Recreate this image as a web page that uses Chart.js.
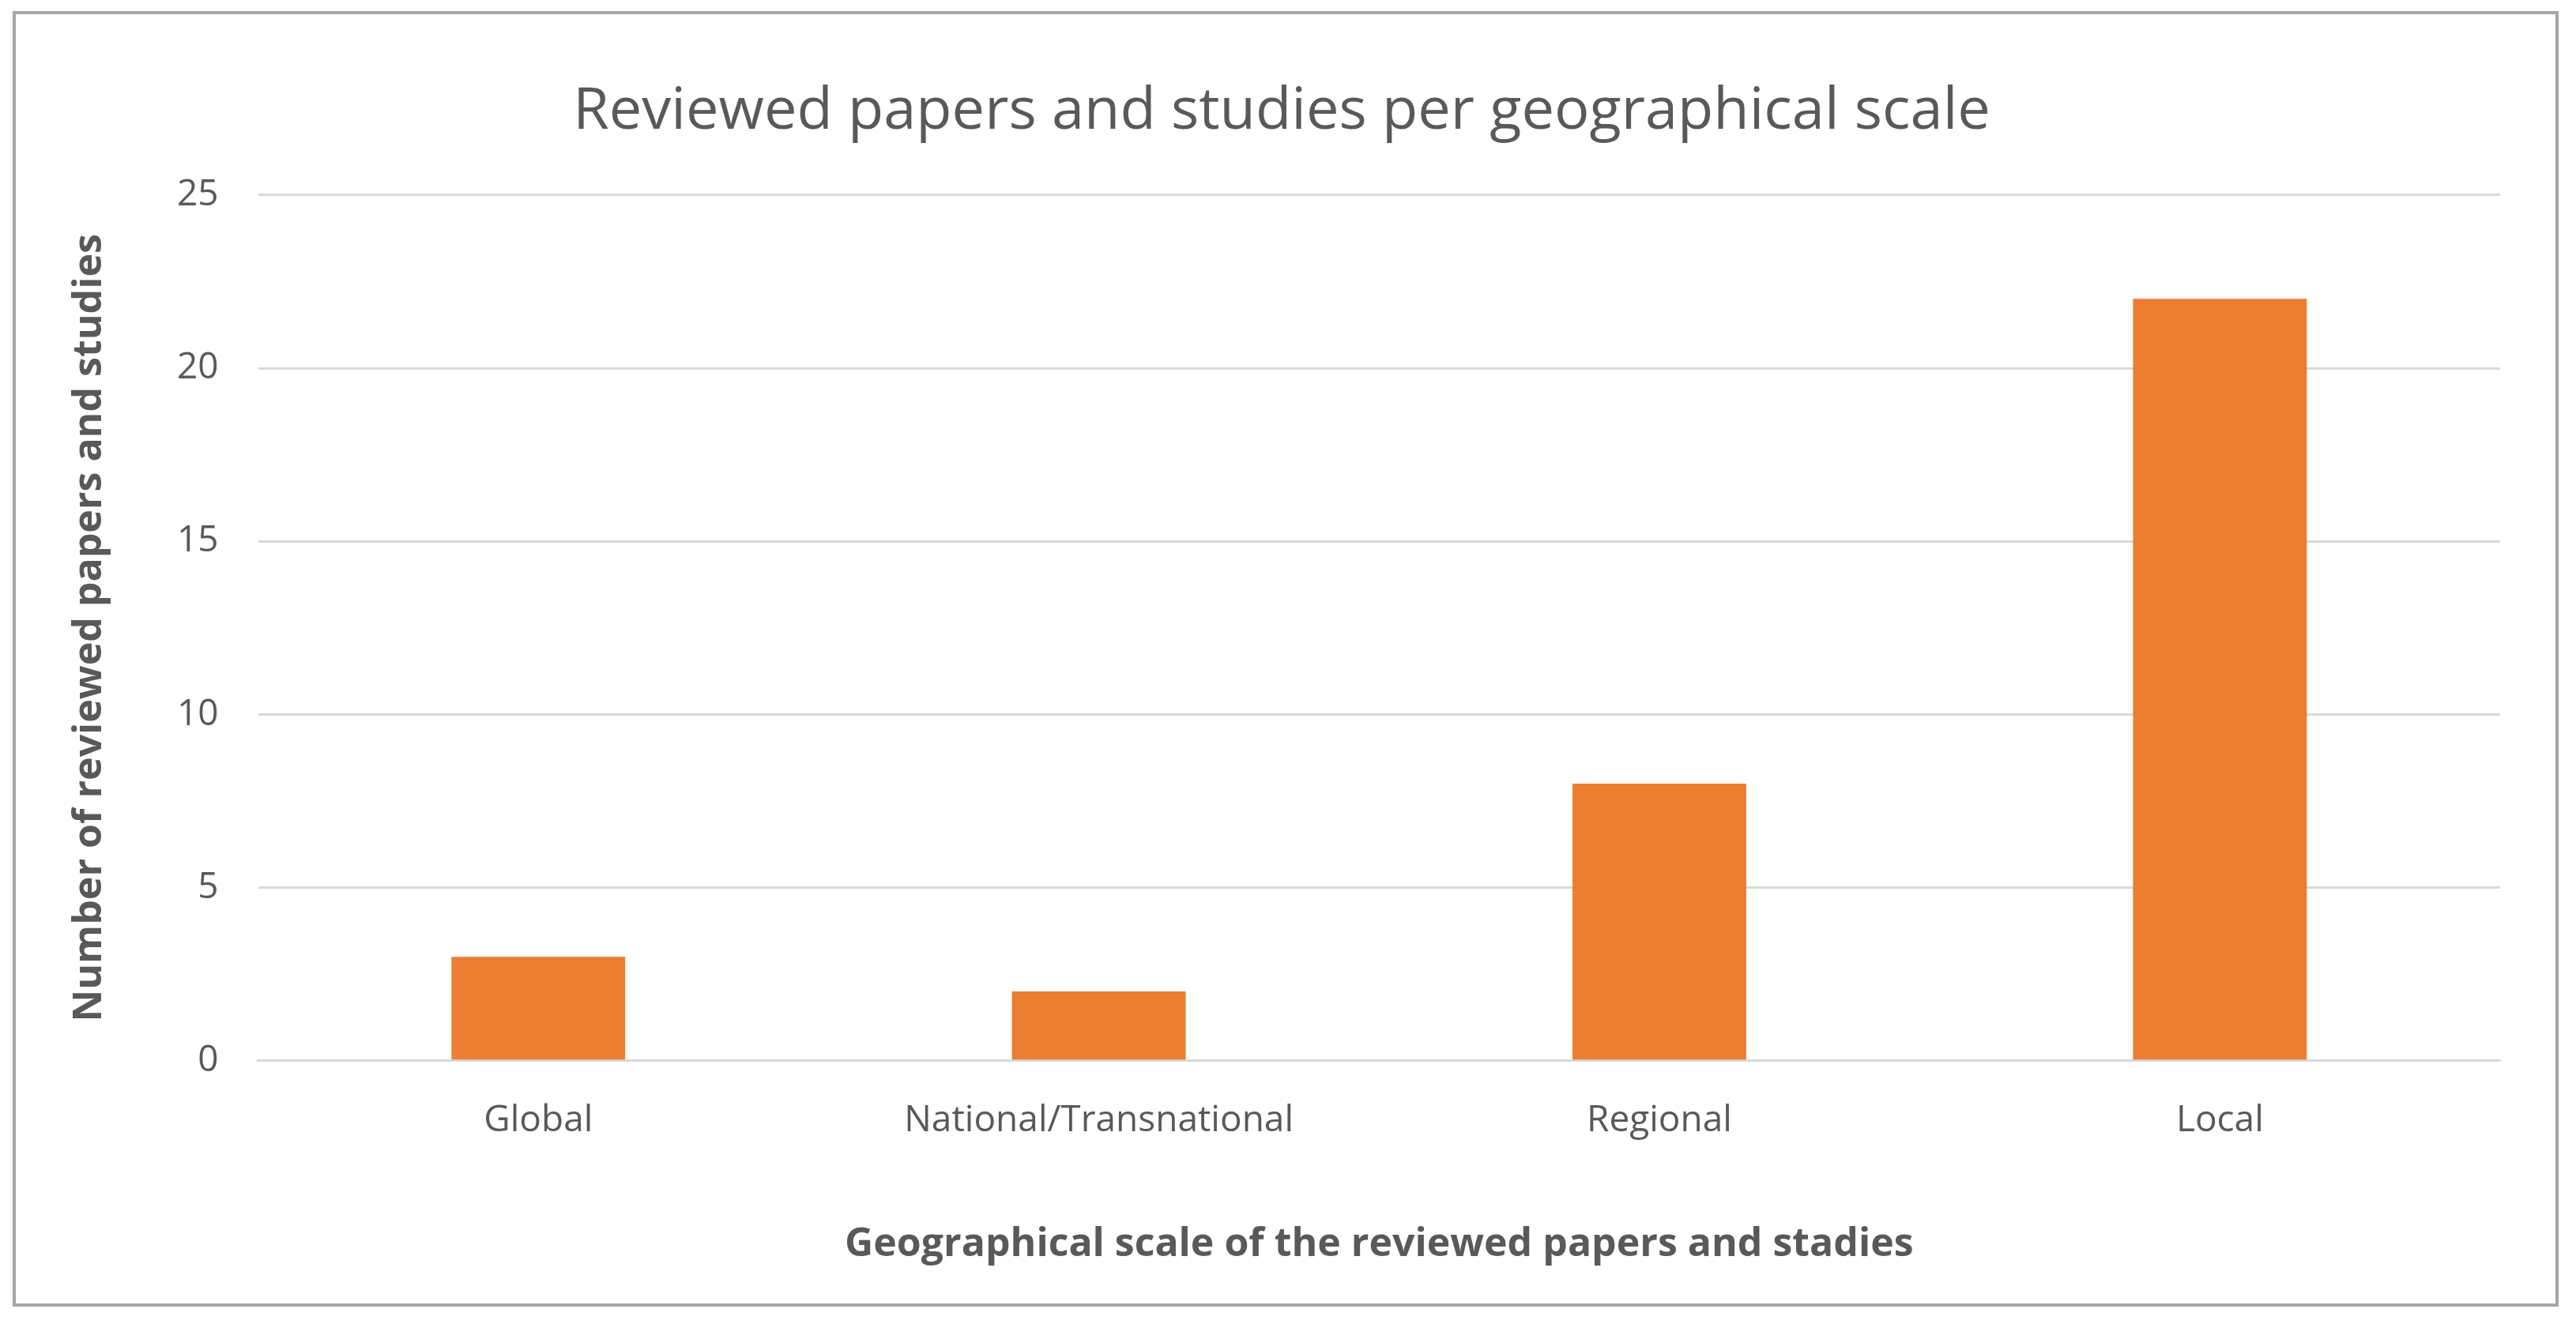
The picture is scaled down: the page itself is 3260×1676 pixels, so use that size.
<!DOCTYPE html>
<html>
<head>
<meta charset="utf-8">
<script src="https://cdn.jsdelivr.net/npm/chart.js@4/dist/chart.umd.min.js"></script>
<style>
  html, body { margin: 0; padding: 0; background: #fff; }
  #frame {
    position: absolute; left: 16px; top: 14px; width: 3222px; height: 1640px;
    border: 4px solid #A6A6A6; box-sizing: border-box; background: #fff;
  }
  canvas { display: block; }
</style>
</head>
<body>
<div id="frame"><canvas id="chart"></canvas></div>
<script>
// chart data
const categories = ["Global", "National/Transnational", "Regional", "Local"];
const paperCounts = [3, 2, 8, 22];
const yTicks = [0, 5, 10, 15, 20, 25];

const textColor = "#595959";
const fontFamily = "'Open Sans', 'Noto Sans', sans-serif";

const ctx = document.getElementById("chart").getContext("2d");
new Chart(ctx, {
    type: "bar",
    data: {
        labels: categories,
        datasets: [{
            label: "Papers",
            data: paperCounts,
            backgroundColor: "#ED7D31",
            barPercentage: 0.31,
            categoryPercentage: 1.0,
        }],
    },
    options: {
        responsive: true,
        maintainAspectRatio: false,
        animation: false,
        layout: { padding: { left: 60, right: 70, top: 20, bottom: 40 } },
        plugins: {
            legend: { display: false },
            tooltip: { enabled: false },
            title: {
                display: true,
                text: "Reviewed papers and studies per geographical scale",
                color: textColor,
                font: { family: fontFamily, size: 74, weight: "normal" },
                padding: { top: 60, bottom: 60 },
            },
        },
        scales: {
            x: {
                grid: { display: false },
                border: { color: "#D9D9D9", width: 3 },
                ticks: { color: textColor, font: { family: fontFamily, size: 46 }, padding: 40 },
                title: {
                    display: true,
                    text: "Geographical scale of the reviewed papers and stadies",
                    color: textColor,
                    font: { family: fontFamily, size: 50, weight: "bold" },
                    padding: { top: 60 },
                },
            },
            y: {
                min: 0,
                max: 25,
                afterBuildTicks: (axis) => { axis.ticks = yTicks.map(v => ({ value: v })); },
                grid: { color: "#D9D9D9", lineWidth: 3, drawTicks: false },
                border: { display: false },
                ticks: { color: textColor, font: { family: fontFamily, size: 46 }, padding: 50 },
                title: {
                    display: true,
                    text: "Number of reviewed papers and studies",
                    color: textColor,
                    font: { family: fontFamily, size: 50, weight: "bold" },
                    padding: { bottom: 30 },
                },
            },
        },
    },
});
</script>
</body>
</html>
